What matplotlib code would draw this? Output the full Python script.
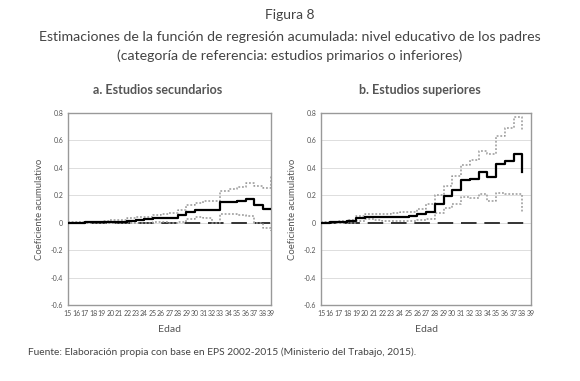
import matplotlib

matplotlib.use("Agg")
import matplotlib.pyplot as plt

# Edad (step points)
ages_sec = list(range(15, 40))
ages_sup = list(range(15, 39))

# a. Estudios secundarios
coef_sec = [0.0, 0.0, 0.002, 0.003, 0.004, 0.006, 0.008, 0.015, 0.018, 0.027, 0.035, 0.035, 0.035,
            0.054, 0.078, 0.095, 0.095, 0.09, 0.15, 0.15, 0.16, 0.17, 0.13, 0.10, 0.10]
upper_sec = [0.003, 0.004, 0.005, 0.006, 0.01, 0.02, 0.022, 0.035, 0.04, 0.045, 0.055, 0.065, 0.07,
             0.09, 0.13, 0.145, 0.155, 0.155, 0.23, 0.245, 0.26, 0.29, 0.27, 0.255, 0.34]
lower_sec = [-0.002, -0.003, -0.002, -0.002, -0.002, -0.004, -0.004, -0.004, -0.003, 0.0, 0.005, 0.005, 0.0,
             0.005, 0.03, 0.04, 0.035, 0.0, 0.065, 0.06, 0.055, 0.05, -0.005, -0.04, -0.06]

# b. Estudios superiores
coef_sup = [0.0, 0.003, 0.005, 0.01, 0.035, 0.045, 0.045, 0.04, 0.045, 0.045, 0.05, 0.06,
            0.08, 0.135, 0.195, 0.24, 0.31, 0.32, 0.37, 0.33, 0.43, 0.45, 0.50, 0.37]
upper_sup = [0.005, 0.008, 0.012, 0.02, 0.05, 0.06, 0.06, 0.06, 0.07, 0.075, 0.08, 0.10,
             0.135, 0.20, 0.27, 0.34, 0.42, 0.46, 0.52, 0.50, 0.63, 0.69, 0.77, 0.67]
lower_sup = [0.0, 0.0, 0.0, 0.0, 0.015, 0.025, 0.02, 0.015, 0.015, 0.015, 0.015, 0.02,
             0.03, 0.07, 0.11, 0.14, 0.19, 0.18, 0.21, 0.16, 0.22, 0.21, 0.21, 0.08]

xtick_labels = [str(a) for a in range(15, 40)]
ytick_values = [0.8, 0.6, 0.4, 0.2, 0.0, -0.2, -0.4, -0.6]
ytick_labels = ["0.8", "0.6", "0.4", "0.2", "0", "-0.2", "-0.4", "-0.6"]

TEXT = "#444444"
FONT = "Lato"

plt.rcParams["font.family"] = [FONT, "DejaVu Sans"]


def draw_panel(ax, ages, coef, upper, lower):
    for y in ytick_values:
        ax.axhline(y, color="#dddddd", lw=0.7, zorder=0)
    ax.plot([15, 39], [0, 0], color="#333333", lw=1.4, dashes=(8, 4), zorder=2)
    ax.step(ages, upper, where="post", color="#999999", lw=1.1, dashes=(1.2, 1.2), zorder=3)
    ax.step(ages, lower, where="post", color="#999999", lw=1.1, dashes=(1.2, 1.2), zorder=3)
    ax.step(ages, coef, where="post", color="black", lw=1.6, zorder=4)
    ax.set_xlim(15, 39)
    ax.set_ylim(-0.6, 0.8)
    ax.set_xticks(range(15, 40))
    ax.set_xticklabels(xtick_labels)
    ax.set_yticks(ytick_values)
    ax.set_yticklabels(ytick_labels)
    ax.tick_params(axis="both", length=0, labelsize=5, colors="#555555", pad=3.5)
    for spine in ax.spines.values():
        spine.set_color("#999999")
        spine.set_linewidth(1.0)
    ax.set_xlabel("Edad", fontsize=7.5, color="#555555", labelpad=6)
    ax.set_ylabel("Coeficiente acumulativo", fontsize=6.8, color="#555555", labelpad=5)


fig = plt.figure(figsize=(5.8, 3.81), dpi=100)
W, H = 580, 381

ax_a = fig.add_axes([68 / W, 1 - 305 / H, 203 / W, 192 / H])
ax_b = fig.add_axes([321 / W, 1 - 305 / H, 210 / W, 192 / H])
draw_panel(ax_a, ages_sec, coef_sec, upper_sec, lower_sec)
draw_panel(ax_b, ages_sup, coef_sup, upper_sup, lower_sup)

fig.text(0.5, 1 - 15 / H, "Figura 8", ha="center", va="center", fontsize=10, color=TEXT)
fig.text(0.5, 1 - 37 / H,
         "Estimaciones de la función de regresión acumulada: nivel educativo de los padres",
         ha="center", va="center", fontsize=10.2, color=TEXT)
fig.text(0.5, 1 - 56 / H,
         "(categoría de referencia: estudios primarios o inferiores)",
         ha="center", va="center", fontsize=10.2, color=TEXT)
fig.text(158 / W, 1 - 90 / H, "a. Estudios secundarios", ha="center", va="center",
         fontsize=9, fontweight="bold", color="#555555")
fig.text(420 / W, 1 - 90 / H, "b. Estudios superiores", ha="center", va="center",
         fontsize=9, fontweight="bold", color="#555555")
fig.text(28 / W, 1 - 352 / H,
         "Fuente: Elaboración propia con base en EPS 2002-2015 (Ministerio del Trabajo, 2015).",
         ha="left", va="center", fontsize=7.4, color=TEXT)

fig.savefig("out.png", dpi=100)
